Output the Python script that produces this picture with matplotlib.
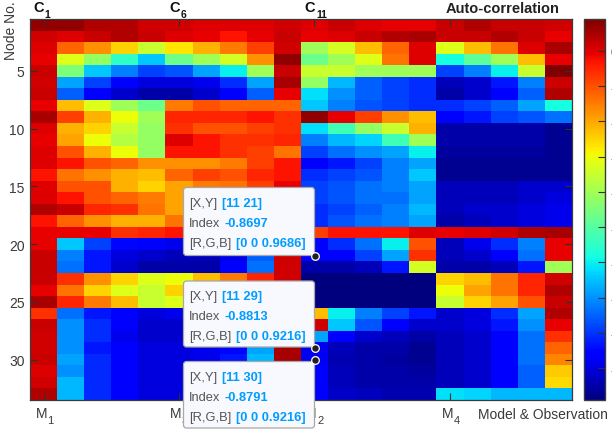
import numpy as np
import matplotlib
matplotlib.use('Agg')
import matplotlib.pyplot as plt
from matplotlib.patches import FancyBboxPatch

plt.rcParams['font.family'] = ['Liberation Sans', 'DejaVu Sans']
plt.rcParams['axes.unicode_minus'] = False

# Indice de correlacao, uma lista por no (33 nos, 20 colunas)
r01 = [.07,.07,.04,.04,.01,.01,0,0,0,.01,0,.02,0,-.01,-.01,.02,.04,.02,.02,.01]
r02 = [.01,0,.02,.04,.02,0,-.01,-.03,-.01,.02,-.01,0,.02,.04,.05,.02,.02,.04,.02,-.01]
r03 = [0,-.125,-.175,-.25,-.35,-.27,-.21,-.15,-.08,.01,-.40,-.335,-.225,-.125,0,-.32,-.225,-.14,0,.05]
r04 = [-.01,-.32,-.42,-.55,-.64,-.47,-.40,-.335,-.175,.07,-.47,-.40,-.32,-.14,0,-.585,-.49,-.40,-.225,-.01]
r05 = [.02,-.45,-.64,-.72,-.785,-.765,-.68,-.60,-.40,.02,-.35,-.35,-.40,-.40,-.40,-.785,-.72,-.60,-.35,.09]
r06 = [.01,-.68,-.785,-.87,-.90,-.90,-.885,-.805,-.68,.05,-.42,-.66,-.75,-.785,-.805,-.935,-.915,-.83,-.72,.015]
r07 = [.02,-.75,-.87,-.915,-.95,-.95,-.915,-.87,-.75,-.01,-.615,-.70,-.75,-.785,-.805,-.95,-.915,-.87,-.75,.04]
r08 = [-.01,-.225,-.32,-.40,-.47,-.15,-.10,-.125,-.125,-.125,-.64,-.72,-.765,-.785,-.805,-.805,-.785,-.75,-.68,-.585]
r09 = [.05,-.08,-.21,-.30,-.40,-.05,-.05,-.05,-.03,-.065,.07,-.01,-.08,-.175,-.225,-.87,-.83,-.785,-.765,-.735]
r10 = [0,-.21,-.25,-.35,-.42,-.065,-.10,-.10,-.08,-.065,-.615,-.53,-.42,-.35,-.21,-.95,-.95,-.95,-.95,-.97]
r11 = [-.01,-.195,-.30,-.375,-.42,0,-.03,-.065,-.065,-.05,-.72,-.66,-.63,-.53,-.40,-.95,-.95,-.95,-.95,-.97]
r12 = [0,-.10,-.21,-.30,-.42,-.03,-.03,-.065,-.08,-.14,-.785,-.735,-.70,-.68,-.60,-.96,-.96,-.96,-.96,-.97]
r13 = [0,-.03,-.10,-.125,-.175,-.175,-.175,-.15,-.08,-.03,-.87,-.83,-.785,-.72,-.68,-.97,-.97,-.97,-.97,-.97]
r14 = [-.03,-.14,-.175,-.21,-.225,-.125,-.08,-.10,-.05,-.03,-.805,-.785,-.765,-.72,-.64,-.97,-.97,-.97,-.97,-.97]
r15 = [0,-.10,-.10,-.21,-.25,-.195,-.15,-.14,-.08,-.01,-.785,-.765,-.735,-.72,-.68,-.935,-.935,-.935,-.915,-.915]
r16 = [0,-.03,-.10,-.125,-.15,-.195,-.16,-.15,-.10,-.03,-.785,-.765,-.735,-.735,-.68,-.935,-.935,-.935,-.915,-.90]
r17 = [.04,.02,-.05,-.065,-.14,-.195,-.17,-.14,-.10,-.05,-.805,-.785,-.75,-.72,-.66,-.935,-.915,-.915,-.90,-.885]
r18 = [-.03,-.125,-.175,-.21,-.21,-.14,-.14,-.125,-.10,-.05,-.805,-.765,-.735,-.72,-.68,-.95,-.935,-.915,-.90,-.885]
r19 = [-.01,-.01,-.01,-.065,-.05,-.03,-.03,-.03,-.03,-.01,-.08,-.03,-.03,-.03,0,-.01,0,.01,.04,.05]
r20 = [-.01,-.64,-.785,-.85,-.87,-.885,-.885,-.87,-.83,.01,-.87,-.805,-.735,-.60,-.10,-.935,-.885,-.805,-.72,-.01]
r21 = [.02,-.72,-.83,-.90,-.915,-.935,-.935,-.89,-.75,.01,-.8697,-.87,-.785,-.68,-.065,-.935,-.915,-.87,-.735,-.01]
r22 = [.02,-.735,-.83,-.915,-.95,-.95,-.95,-.87,-.735,.01,-.95,-.95,-.935,-.83,-.335,-.95,-.95,-.935,-.83,-.40]
r23 = [.02,-.065,-.175,-.25,-.32,-.30,-.225,-.15,-.05,.01,-.99,-.99,-.99,-.99,-.99,-.25,-.225,-.14,-.05,.01]
r24 = [-.01,-.14,-.25,-.32,-.35,-.25,-.20,-.12,-.05,.015,-.99,-.99,-.99,-.99,-.99,-.30,-.195,-.14,-.05,.04]
r25 = [.05,-.05,-.15,-.225,-.35,-.32,-.22,-.14,-.05,.02,-.99,-.99,-.99,-.99,-.99,-.35,-.25,-.195,-.10,.02]
r26 = [-.065,-.735,-.83,-.87,-.90,-.885,-.885,-.87,-.72,.015,-.225,-.60,-.72,-.785,-.83,-.915,-.90,-.805,-.68,.04]
r27 = [.02,-.70,-.805,-.87,-.915,-.915,-.90,-.87,-.70,.015,.01,-.64,-.765,-.87,-.915,-.915,-.90,-.83,-.70,-.01]
r28 = [.01,-.70,-.805,-.885,-.915,-.915,-.90,-.87,-.70,.04,-.68,-.87,-.915,-.935,-.95,-.935,-.915,-.87,-.735,-.065]
r29 = [.01,-.70,-.83,-.87,-.90,-.90,-.885,-.85,-.68,.05,-.8813,-.935,-.95,-.95,-.97,-.935,-.915,-.87,-.735,-.125]
r30 = [.02,-.68,-.81,-.87,-.90,-.90,-.885,-.83,-.66,.05,-.8791,-.94,-.95,-.96,-.97,-.935,-.915,-.87,-.735,-.16]
r31 = [0,-.70,-.81,-.87,-.90,-.90,-.885,-.86,-.72,.02,-.87,-.935,-.95,-.95,-.96,-.935,-.915,-.87,-.75,-.24]
r32 = [.01,-.66,-.81,-.87,-.90,-.90,-.885,-.86,-.74,.015,-.87,-.935,-.95,-.95,-.95,-.935,-.915,-.87,-.75,-.26]
r33 = [.04,-.66,-.81,-.87,-.90,-.90,-.885,-.87,-.76,.01,-.87,-.92,-.93,-.94,-.94,-.615,-.63,-.66,-.66,-.66]

matriz = np.array([r01,r02,r03,r04,r05,r06,r07,r08,r09,r10,r11,r12,r13,r14,r15,r16,r17,
                   r18,r19,r20,r21,r22,r23,r24,r25,r26,r27,r28,r29,r30,r31,r32,r33])

y_ticks = [5, 10, 15, 20, 25, 30]
x_ticks = [1, 6, 11, 16]
cb_ticks = [0, -0.1, -0.2, -0.3, -0.4, -0.5, -0.6, -0.7, -0.8, -0.9]
top_subs = ['1', '6', '11']
bottom_subs = ['1', '3', '2', '4']
tip_x = [11, 11, 11]
tip_y = [21, 29, 30]
tip_index = ['-0.8697', '-0.8813', '-0.8791']
tip_rgb = ['[0 0 0.9686]', '[0 0 0.9216]', '[0 0 0.9216]']

W, H = 612.0, 431.0
cinza = '#3a3a3a'
azul = '#009cff'

def rect(x0, y0, x1, y1):
    return [x0 / W, 1 - y1 / H, (x1 - x0) / W, (y1 - y0) / H]

fig = plt.figure(figsize=(W / 100, H / 100), dpi=100)

# Mapa principal
ax = fig.add_axes(rect(30, 20, 571.5, 401))
im = ax.imshow(matriz, cmap='jet', vmin=-0.99, vmax=0.09, aspect='auto', interpolation='nearest',
               extent=[0.5, 20.5, 33.5, 0.5])
ax.set_xticks(x_ticks)
ax.set_xticklabels([])
ax.set_yticks(y_ticks)
ax.set_yticklabels([str(v) for v in y_ticks], fontsize=10, color=cinza)
ax.tick_params(axis='both', direction='in', length=5, width=0.8, color='#303030',
               top=True, right=True, pad=4)
for s in ax.spines.values():
    s.set_color(cinza)
    s.set_linewidth(0.9)

# Barra de cores
cax = fig.add_axes(rect(584, 20, 605, 401))
cb = fig.colorbar(im, cax=cax)
cb.set_ticks(cb_ticks)
cb.set_ticklabels(['0' if v == 0 else '%.1f' % v for v in cb_ticks])
cax.tick_params(direction='in', length=5, width=0.8, color='#303030', labelsize=10,
                labelcolor=cinza, pad=4)
for s in cax.spines.values():
    s.set_color(cinza)
    s.set_linewidth(1.0)
cax.spines['left'].set_color('#909090')

# Camada em pixels para textos e caixas
ov = fig.add_axes([0, 0, 1, 1])
ov.set_xlim(0, W)
ov.set_ylim(H, 0)
ov.axis('off')
ov.patch.set_alpha(0)

ov.text(11, 31, 'Node No.', rotation=90, ha='center', va='center', fontsize=10, color=cinza)
for x, xs, ys, t in zip([33.5, 169.5, 304.5], [44.5, 180.5, 316], [15.5, 14.5, 14.5], top_subs):
    ov.text(x, 7.5, 'C', ha='left', va='center', fontsize=10.5, fontweight='bold', color='#111111')
    ov.text(xs, ys, t, ha='left', va='center', fontsize=7.5, fontweight='bold', color='#111111')
ov.text(446, 9, 'Auto-correlation', ha='left', va='center', fontsize=10.5, fontweight='bold', color='#222222')
for x, xs, t in zip([35.5, 170, 304.5, 442], [47.5, 182, 317, 453.5], bottom_subs):
    ov.text(x, 414, 'M', ha='left', va='center', fontsize=10, color=cinza, zorder=2)
    ov.text(xs, 421.5, t, ha='left', va='center', fontsize=8, color=cinza, zorder=2)
ov.text(478, 415, 'Model & Observation', ha='left', va='center', fontsize=10, color=cinza)

caixas = [(188.5, 256.5), (282, 348), (362.5, 429)]
for (y0, y1), xc, yc, idx, rgb in zip(caixas, tip_x, tip_y, tip_index, tip_rgb):
    ov.add_patch(FancyBboxPatch((183.5 + 2, y0 + 2), 131 - 4, y1 - y0 - 4, zorder=5,
                                boxstyle='round,pad=2,rounding_size=3', fc='#f8f8ff', ec='#a8a8a8', lw=0.9))
    y_a = y0 + 15.5
    y_b = y_a + 20
    y_c = y_b + 20
    ov.text(189, y_a, '[X,Y]', ha='left', va='center', fontsize=9.3, color='#555555', zorder=6)
    ov.text(221.5, y_a, '[%d %d]' % (xc, yc), ha='left', va='center', fontsize=9.3, fontweight='bold', color=azul, zorder=6)
    ov.text(189, y_b, 'Index', ha='left', va='center', fontsize=9.3, color='#555555', zorder=6)
    ov.text(224.5, y_b, idx, ha='left', va='center', fontsize=9.3, fontweight='bold', color=azul, zorder=6)
    ov.text(189, y_c, '[R,G,B]', ha='left', va='center', fontsize=9.3, color='#555555', zorder=6)
    ov.text(236.5, y_c, rgb, ha='left', va='center', fontsize=9.3, fontweight='bold', color=azul, zorder=6)

# Marcadores dos pontos selecionados
for yc in tip_y:
    py = 20 + (yc - 0.5) * 381 / 33
    ov.plot([314.5], [py], marker='o', ms=5.5, mfc='#202020', mec='white', mew=0.9, clip_on=False, zorder=7)

fig.savefig('out.png', dpi=100)
